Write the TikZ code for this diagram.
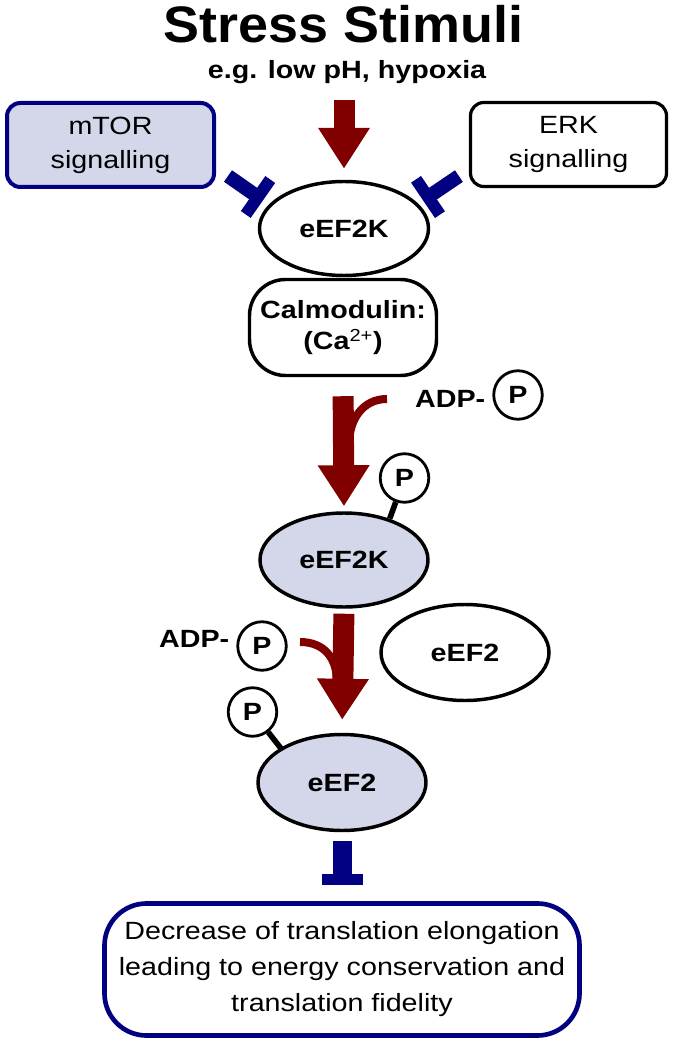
\documentclass[tikz,border=0pt]{standalone}
\usepackage{fontspec}
\setmainfont[FakeStretch=1.15]{Liberation Sans}
\newfontfamily\titlefont[FakeStretch=1.05]{Liberation Sans}
\usetikzlibrary{arrows.meta,shapes.geometric,calc}
\definecolor{arrowred}{RGB}{128,0,0}
\definecolor{inhblue}{RGB}{0,0,128}
\definecolor{protfill}{RGB}{212,214,234}
\newcommand{\nodefont}{\fontsize{18.7}{25.5}\selectfont}

\begin{document}
\begin{tikzpicture}[x=0.75pt,y=-0.75pt,
  lbl/.style={font=\bfseries\nodefont},
  prot/.style={ellipse, draw, line width=2.6pt, inner sep=0pt, minimum width=126pt, minimum height=70.5pt, font=\bfseries\nodefont},
  pcirc/.style={circle, draw, line width=2.1pt, minimum size=36.4pt, inner sep=0pt, font=\bfseries\nodefont},
  bigarrow/.style={arrowred, line width=15.75pt, -{Triangle[length=30.75pt,width=36.75pt]}},
  branch/.style={arrowred, line width=6pt},
  inhib/.style={inhblue, line width=10.5pt},
  stalk/.style={line width=4.2pt}]
\useasboundingbox (0,0) rectangle (673,1044);

% Title
\node[anchor=base, font=\titlefont\bfseries\fontsize{38.5}{46}\selectfont] (title) at (343.5,43) {Stress Stimuli};
\node[anchor=base, lbl] (sub) at (347,79) {e.g. low pH, hypoxia};

% Upstream signalling
\node[draw=inhblue, fill=protfill, line width=3pt, rounded corners=10pt, minimum width=155.25pt, minimum height=63pt, align=center, font=\nodefont] (mtor) at (110.5,145) {mTOR\\signalling};
\node[draw, line width=2.4pt, rounded corners=10pt, minimum width=147pt, minimum height=63pt, align=center, font=\nodefont] (erk) at (568.5,144.5) {ERK\\signalling};

% Kinase and calmodulin
\node[prot, minimum width=126.75pt] (k1) at (344,228.5) {eEF2K};
\node[draw, line width=2.6pt, rounded corners=27pt, minimum width=140.25pt, minimum height=72pt, align=center, font=\bfseries\fontsize{18.7}{23.25}\selectfont] (calm) at (343,327.5) {Calmodulin:\\(Ca\textsuperscript{\mdseries 2+})};

% Phosphorylated kinase
\node[prot, fill=protfill] (k2) at (344,560) {eEF2K};
\node[pcirc] (pk) at (404.5,478) {P};
\draw[stalk] (pk.-110) -- ($(pk.center)!1.68!(pk.-110)$);
\node[pcirc] (p1) at (518,395) {P};
\node[lbl, anchor=base east] (adp1) at (490,407) {ADP-};

% Substrate
\node[prot, minimum height=72pt] (e2w) at (465,652.5) {eEF2};
\node[pcirc] (p2) at (262,646) {P};
\node[lbl, anchor=base east] (adp2) at (234,647) {ADP-};

% Phosphorylated eEF2
\node[prot, fill=protfill, minimum height=72pt] (e2) at (342,782.5) {eEF2};
\node[pcirc] (pe) at (252.5,712) {P};
\draw[stalk] (pe.-52) -- ($(pe.center)!1.8!(pe.-52)$);

% Outcome
\node[draw=inhblue, line width=3.5pt, rounded corners=31.5pt, minimum width=356.25pt, minimum height=99pt, align=center, font=\fontsize{18.7}{27}\selectfont] (out) at (342,969.5) {Decrease of translation elongation\\leading to energy conservation and\\translation fidelity};

% Activation arrows
\coordinate (s1) at (344,100);
\draw[bigarrow, shorten >=8.25pt] (s1) -- (k1.north);
\coordinate (b1) at (387,399);
\draw[branch] (b1) .. controls +(-24,0) and +(0,-26) .. (349,445);
\draw[bigarrow, shorten <=14.25pt, shorten >=3.75pt] (calm.south) -- (k2.north);
\coordinate (b2) at (300,642);
\draw[branch] (b2) .. controls +(24,0) and +(0,-24) .. (337,682);
\draw[bigarrow, shorten <=3.75pt, shorten >=9.75pt] (k2.south) -- (e2.north);

% Inhibitions
\coordinate (a1) at ($(mtor.south east)+(12,-13)$);
\coordinate (t1) at (258,197);
\draw[inhib] (a1) -- (t1);
\draw[inhib, line width=9pt] ($(t1)!16pt!90:(a1)$) -- ($(t1)!16pt!-90:(a1)$);
\coordinate (a2) at ($(erk.south west)+(-10,-12)$);
\coordinate (t2) at (428,197);
\draw[inhib] (a2) -- (t2);
\draw[inhib, line width=9pt] ($(t2)!16pt!90:(a2)$) -- ($(t2)!16pt!-90:(a2)$);
\coordinate (t3) at ($(e2.south |- out.north)+(0,-22)$);
\draw[inhib, line width=14.25pt, shorten <=6.75pt] (e2.south) -- (t3);
\draw[inhib, line width=8.25pt] ($(t3)+(-20.5,0)$) -- ($(t3)+(20.5,0)$);
\end{tikzpicture}
\end{document}
